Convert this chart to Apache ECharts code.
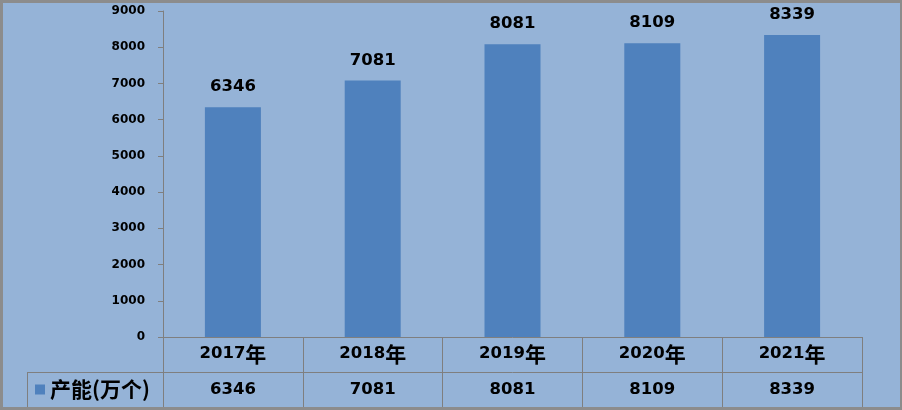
<!DOCTYPE html>
<html>
<head>
<meta charset="utf-8">
<script src="https://cdn.jsdelivr.net/npm/echarts@6/dist/echarts.min.js"></script>
<style>
  html, body { margin: 0; padding: 0; background: #95B3D7; }
  #chart { width: 902px; height: 410px; }
</style>
</head>
<body>
<div id="chart"></div>
<script>
const categories = ['2017年', '2018年', '2019年', '2020年', '2021年'];
const values = [6346, 7081, 8081, 8109, 8339];
const seriesName = '产能(万个)';
const yMin = 0;
const yMax = 9000;
const yInterval = 1000;

const LINE = '#7f7f7f';
const BORDER = '#8c8c8c';
const DIGIT_FONT = '"DejaVu Sans", "Noto Sans CJK SC", sans-serif';
const CJK_FONT = '"Noto Sans CJK SC", sans-serif';

const chart = echarts.init(document.getElementById('chart'), null, { renderer: 'canvas' });

chart.setOption({
  backgroundColor: '#95B3D7',
  animation: false,
  grid: { left: 163, right: 40, top: 11, bottom: 73, containLabel: false },
  legend: {
    data: [seriesName],
    left: 35,
    top: 379,
    padding: 0,
    icon: 'rect',
    itemWidth: 10,
    itemHeight: 10,
    selectedMode: false,
    textStyle: { fontFamily: CJK_FONT, fontSize: 21, fontWeight: 'bold', color: '#000' }
  },
  xAxis: [
    {
      type: 'category',
      data: categories,
      position: 'bottom',
      axisLine: { show: true, lineStyle: { color: LINE, width: 1 } },
      axisTick: { show: true, length: 70, interval: 0, lineStyle: { color: LINE, width: 1 } },
      axisLabel: {
        interval: 0,
        margin: 5,
        formatter: function (v) {
          return '{d|' + v.replace('年', '') + '}{c|年}';
        },
        rich: {
          d: { fontFamily: DIGIT_FONT, fontSize: 16.5, fontWeight: 'bold', color: '#000', lineHeight: 24 },
          c: { fontFamily: CJK_FONT, fontSize: 21, fontWeight: 'bold', color: '#000', lineHeight: 24 }
        }
      }
    },
    {
      type: 'category',
      data: values.map(String),
      position: 'bottom',
      offset: 35,
      axisLine: { show: true, lineStyle: { color: LINE, width: 1 } },
      axisTick: { show: false },
      axisLabel: {
        interval: 0,
        margin: 6,
        fontFamily: DIGIT_FONT,
        fontSize: 16.5,
        fontWeight: 'bold',
        color: '#000',
        lineHeight: 24
      }
    }
  ],
  yAxis: {
    type: 'value',
    min: yMin,
    max: yMax,
    interval: yInterval,
    axisLine: { show: true, lineStyle: { color: LINE, width: 1 } },
    axisTick: { show: true, length: 5, lineStyle: { color: LINE, width: 1 } },
    splitLine: { show: false },
    axisLabel: {
      margin: 18,
      formatter: function (v) { return String(v); },
      fontFamily: DIGIT_FONT,
      fontSize: 12,
      fontWeight: 'bold',
      color: '#000'
    }
  },
  series: [
    {
      name: seriesName,
      type: 'bar',
      xAxisIndex: 0,
      data: values,
      barWidth: 56,
      itemStyle: { color: '#4F81BD' },
      label: {
        show: true,
        position: 'top',
        distance: 12,
        fontFamily: DIGIT_FONT,
        fontSize: 16.5,
        fontWeight: 'bold',
        color: '#000'
      }
    }
  ],
  graphic: [
    { type: 'line', shape: { x1: 27, y1: 372.5, x2: 163, y2: 372.5 }, style: { stroke: LINE, lineWidth: 1 } },
    { type: 'line', shape: { x1: 27.5, y1: 372, x2: 27.5, y2: 408 }, style: { stroke: LINE, lineWidth: 1 } },
    { type: 'rect', shape: { x: 0, y: 0, width: 902, height: 3 }, style: { fill: BORDER } },
    { type: 'rect', shape: { x: 0, y: 407, width: 902, height: 3 }, style: { fill: BORDER } },
    { type: 'rect', shape: { x: 0, y: 0, width: 3, height: 410 }, style: { fill: BORDER } },
    { type: 'rect', shape: { x: 900, y: 0, width: 2, height: 410 }, style: { fill: BORDER } }
  ]
});
</script>
</body>
</html>
